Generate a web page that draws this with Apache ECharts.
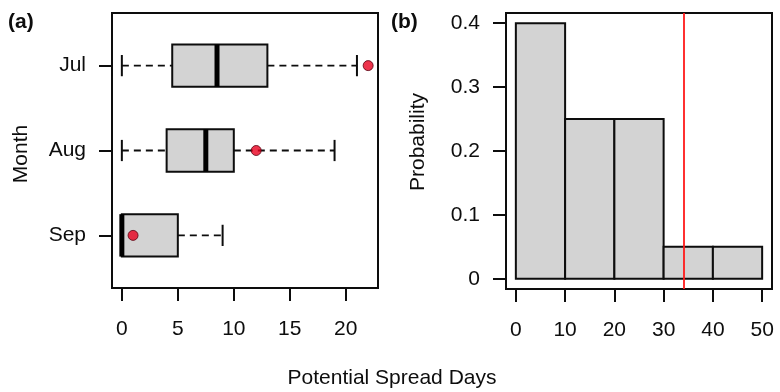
<!DOCTYPE html>
<html>
<head>
<meta charset="utf-8">
<script src="https://cdn.jsdelivr.net/npm/echarts@6/dist/echarts.min.js"></script>
<style>
  html, body { margin: 0; padding: 0; background: #fff; }
  #chart { width: 780px; height: 392px; }
</style>
</head>
<body>
<div id="chart"></div>
<script>
// Panel (a): potential spread days per month (box summaries, top to bottom)
const months = ['Jul', 'Aug', 'Sep'];
const whiskerLow = [0, 0, 0];
const quartile1 = [4.5, 4, 0];
const medians = [8.5, 7.5, 0];
const quartile3 = [13, 10, 5];
const whiskerHigh = [21, 19, 9];
const observed = [22, 12, 1];
const spreadTicks = [0, 5, 10, 15, 20];

// Panel (b): histogram of potential spread days
const binEdges = [0, 10, 20, 30, 40, 50];
const probabilities = [0.4, 0.25, 0.25, 0.05, 0.05];
const probTicks = [0, 0.1, 0.2, 0.3, 0.4];
const binTicks = [0, 10, 20, 30, 40, 50];
const threshold = 34;

const FONT = '"Liberation Sans", Arial, Helvetica, sans-serif';
const FS = 21;
const INK = '#0d0d0d';
const BOX_FILL = '#d3d3d3';
const LW = 2;

// months listed top to bottom; position 1 is the lowest row
const monthPos = months.map((m, i) => months.length - i);
const boxData = months.map((m, i) => [monthPos[i], whiskerLow[i], quartile1[i], medians[i], quartile3[i], whiskerHigh[i]]);
const pointData = months.map((m, i) => [observed[i], monthPos[i]]);
const histData = probabilities.map((p, i) => [binEdges[i], binEdges[i + 1], p]);

function renderBox(params, api) {
  const pos = api.value(0);
  const lo = api.value(1), q1 = api.value(2), md = api.value(3), q3 = api.value(4), hi = api.value(5);
  const half = 0.25, cap = 0.125;
  const c = (x, y) => api.coord([x, y]);
  const yc = c(0, pos)[1];
  const yTop = c(0, pos + half)[1], yBot = c(0, pos - half)[1];
  const cTop = c(0, pos + cap)[1], cBot = c(0, pos - cap)[1];
  const xlo = c(lo, pos)[0], xq1 = c(q1, pos)[0], xmd = c(md, pos)[0], xq3 = c(q3, pos)[0], xhi = c(hi, pos)[0];
  const dashed = { stroke: INK, lineWidth: 1.8, lineDash: [7, 5] };
  const solid = { stroke: INK, lineWidth: LW };
  return {
    type: 'group',
    children: [
      { type: 'line', shape: { x1: xlo, y1: yc, x2: xq1, y2: yc }, style: dashed },
      { type: 'line', shape: { x1: xq3, y1: yc, x2: xhi, y2: yc }, style: dashed },
      { type: 'line', shape: { x1: xlo, y1: cTop, x2: xlo, y2: cBot }, style: solid },
      { type: 'line', shape: { x1: xhi, y1: cTop, x2: xhi, y2: cBot }, style: solid },
      { type: 'rect', shape: { x: xq1, y: yTop, width: xq3 - xq1, height: yBot - yTop },
        style: { fill: BOX_FILL, stroke: INK, lineWidth: LW } },
      { type: 'line', shape: { x1: xmd, y1: yTop, x2: xmd, y2: yBot }, style: { stroke: '#000', lineWidth: 5 } }
    ]
  };
}

function renderBin(params, api) {
  const tl = api.coord([api.value(0), api.value(2)]);
  const br = api.coord([api.value(1), 0]);
  return {
    type: 'rect',
    shape: { x: tl[0], y: tl[1], width: br[0] - tl[0], height: br[1] - tl[1] },
    style: { fill: BOX_FILL, stroke: INK, lineWidth: LW }
  };
}

const tickStyle = { show: true, inside: false, length: 13, lineStyle: { color: INK, width: LW } };
const labelStyle = { color: INK, fontSize: FS, fontFamily: FONT, lineHeight: FS };
const hiddenLine = { show: false, onZero: false };

const option = {
  backgroundColor: '#fff',
  animation: false,
  grid: [
    { left: 112, top: 13, width: 266, height: 275, show: true, borderColor: INK, borderWidth: LW, backgroundColor: 'transparent', containLabel: false },
    { left: 506, top: 13, width: 266, height: 276, show: true, borderColor: INK, borderWidth: LW, backgroundColor: 'transparent', containLabel: false }
  ],
  xAxis: [
    {
      type: 'value', gridIndex: 0, min: -0.88, max: 22.88, position: 'bottom',
      axisLine: hiddenLine, splitLine: { show: false },
      axisTick: Object.assign({ customValues: spreadTicks }, tickStyle),
      axisLabel: Object.assign({ customValues: spreadTicks, margin: 31, formatter: v => String(v) }, labelStyle)
    },
    {
      type: 'value', gridIndex: 1, min: -2, max: 52, position: 'bottom',
      axisLine: hiddenLine, splitLine: { show: false },
      axisTick: Object.assign({ customValues: binTicks }, tickStyle),
      axisLabel: Object.assign({ customValues: binTicks, margin: 31, formatter: v => String(v) }, labelStyle)
    }
  ],
  yAxis: [
    {
      type: 'value', gridIndex: 0, min: 0.38, max: 3.62, position: 'left',
      axisLine: hiddenLine, splitLine: { show: false },
      axisTick: Object.assign({ customValues: monthPos }, tickStyle),
      axisLabel: Object.assign({
        customValues: monthPos, margin: 26,
        formatter: v => months[months.length - Math.round(v)]
      }, labelStyle)
    },
    {
      type: 'value', gridIndex: 1, min: -0.016, max: 0.416, position: 'left',
      axisLine: hiddenLine, splitLine: { show: false },
      axisTick: Object.assign({ customValues: probTicks }, tickStyle),
      axisLabel: Object.assign({ customValues: probTicks, margin: 26, formatter: v => String(+v.toFixed(1)) }, labelStyle)
    }
  ],
  series: [
    {
      type: 'custom', xAxisIndex: 0, yAxisIndex: 0,
      renderItem: renderBox,
      encode: { x: [1, 2, 3, 4, 5], y: 0 },
      data: boxData, clip: false, silent: true
    },
    {
      type: 'scatter', xAxisIndex: 0, yAxisIndex: 0,
      data: pointData, symbol: 'circle', symbolSize: 10,
      itemStyle: { color: '#e8001e', borderColor: '#5a0010', borderWidth: 1 },
      silent: true, z: 5
    },
    {
      type: 'custom', xAxisIndex: 1, yAxisIndex: 1,
      renderItem: renderBin,
      encode: { x: [0, 1], y: 2 },
      data: histData, silent: true,
      markLine: {
        silent: true, symbol: 'none', animation: false,
        label: { show: false },
        lineStyle: { color: '#ff1a1a', width: 1.8, type: 'solid' },
        data: [{ xAxis: threshold }]
      }
    }
  ],
  graphic: [
    { type: 'text', x: 8, y: 12, style: { text: '(a)', font: 'bold 21px ' + FONT, fill: INK } },
    { type: 'text', x: 391, y: 12, style: { text: '(b)', font: 'bold 21px ' + FONT, fill: INK } },
    { type: 'text', x: 21, y: 154, rotation: Math.PI / 2,
      style: { text: 'Month', font: '21px ' + FONT, fill: INK, align: 'center', verticalAlign: 'middle' } },
    { type: 'text', x: 418, y: 142, rotation: Math.PI / 2,
      style: { text: 'Probability', font: '21px ' + FONT, fill: INK, align: 'center', verticalAlign: 'middle' } },
    { type: 'text', x: 392, y: 378,
      style: { text: 'Potential Spread Days', font: '21px ' + FONT, fill: INK, align: 'center', verticalAlign: 'middle' } }
  ]
};

const chart = echarts.init(document.getElementById('chart'), null, { renderer: 'canvas' });
chart.setOption(option);
</script>
</body>
</html>
